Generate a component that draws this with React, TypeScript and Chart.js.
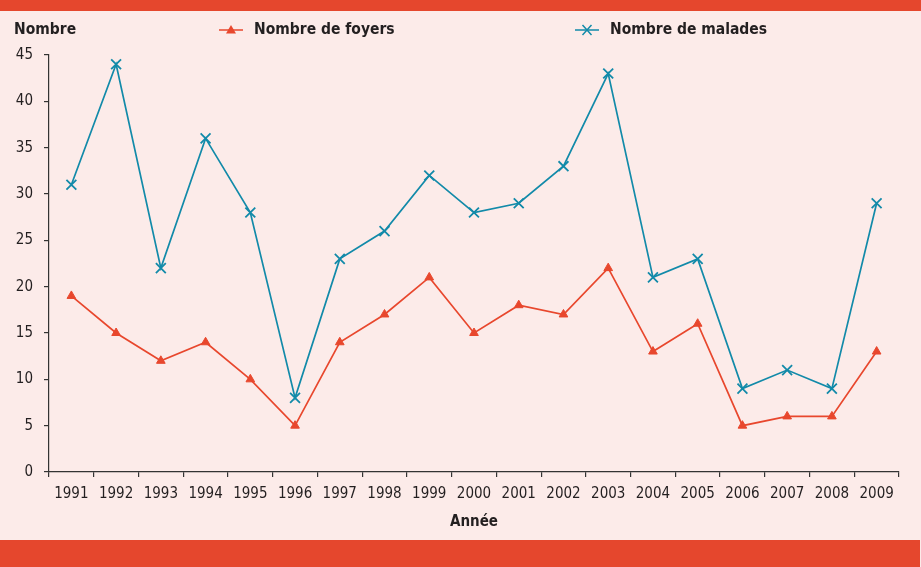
import React, { useEffect, useRef } from "react";
import { Chart, registerables } from "chart.js";

Chart.register(...registerables);

const years = ["1991", "1992", "1993", "1994", "1995", "1996", "1997", "1998", "1999", "2000", "2001", "2002", "2003", "2004", "2005", "2006", "2007", "2008", "2009"];
const foyers = [19, 15, 12, 14, 10, 5, 14, 17, 21, 15, 18, 17, 22, 13, 16, 5, 6, 6, 13];
const malades = [31, 44, 22, 36, 28, 8, 23, 26, 32, 28, 29, 33, 43, 21, 23, 9, 11, 9, 29];
const seriesLabels = ["Nombre de foyers", "Nombre de malades"];
const yAxisLabel = "Nombre";
const xAxisLabel = "Année";
const yMax = 45;
const yStep = 5;

const RED = "#e8472d";
const TEAL = "#128aa9";
const BAND = "#e5472d";
const BG = "#fcebe9";
const TEXT = "#231f20";
const FONT = "'DejaVu Sans Condensed', 'DejaVu Sans', sans-serif";

const legendX = [219, 575];

const headerPlugin = {
  id: "header",
  afterDraw(chart: any) {
    const ctx = chart.ctx as CanvasRenderingContext2D;
    ctx.save();
    ctx.fillStyle = TEXT;
    ctx.textBaseline = "middle";
    ctx.textAlign = "left";
    ctx.font = `bold 15.5px ${FONT}`;
    ctx.fillText(yAxisLabel, 14, 30);
    chart.data.datasets.forEach((ds: any, i: number) => {
      const x0 = legendX[i];
      const y = 30;
      ctx.strokeStyle = ds.borderColor;
      ctx.lineWidth = 1.5;
      ctx.beginPath();
      ctx.moveTo(x0, y);
      ctx.lineTo(x0 + 24, y);
      ctx.stroke();
      const cx = x0 + 12;
      if (ds.pointStyle === "triangle") {
        ctx.fillStyle = ds.borderColor;
        ctx.beginPath();
        ctx.moveTo(cx, y - 5);
        ctx.lineTo(cx + 5, y + 3.5);
        ctx.lineTo(cx - 5, y + 3.5);
        ctx.closePath();
        ctx.fill();
      } else {
        ctx.lineWidth = 1.5;
        ctx.beginPath();
        ctx.moveTo(cx - 4.5, y - 5);
        ctx.lineTo(cx + 4.5, y + 5);
        ctx.moveTo(cx + 4.5, y - 5);
        ctx.lineTo(cx - 4.5, y + 5);
        ctx.stroke();
      }
      ctx.fillStyle = TEXT;
      ctx.font = `bold 15.5px ${FONT}`;
      ctx.fillText(ds.label, x0 + 35, y);
    });
    ctx.restore();
  },
};

export default function App() {
  const ref = useRef<HTMLCanvasElement | null>(null);

  useEffect(() => {
    if (!ref.current) return;
    const chart = new Chart(ref.current, {
      type: "line",
      data: {
        labels: years,
        datasets: [
          {
            label: seriesLabels[0],
            data: foyers,
            borderColor: RED,
            backgroundColor: RED,
            borderWidth: 1.7,
            pointStyle: "triangle",
            pointRadius: 5,
            pointBorderWidth: 1,
            tension: 0,
          },
          {
            label: seriesLabels[1],
            data: malades,
            borderColor: TEAL,
            backgroundColor: TEAL,
            borderWidth: 1.7,
            pointStyle: "crossRot",
            pointRadius: 7,
            pointBorderWidth: 1.8,
            tension: 0,
          },
        ],
      },
      options: {
        responsive: false,
        animation: false,
        devicePixelRatio: 1,
        layout: { padding: { left: 0, top: 55, right: 22, bottom: 35 } },
        plugins: {
          legend: { display: false },
          tooltip: { enabled: false },
        },
        scales: {
          x: {
            offset: true,
            grid: { drawOnChartArea: false, drawTicks: true, tickLength: 5, color: "#333", offset: true, lineWidth: 1.2 },
            border: { color: "#333", width: 1.2 },
            ticks: { color: TEXT, font: { family: FONT, size: 15 }, maxRotation: 0, autoSkip: false, padding: 8 },
            title: { display: true, text: xAxisLabel, color: TEXT, font: { family: FONT, size: 15, weight: "bold" }, padding: { top: 0, bottom: 1 } },
            afterFit: (scale: any) => {
              scale.height = 60;
            },
          },
          y: {
            min: 0,
            max: yMax,
            grid: { drawOnChartArea: false, drawTicks: true, tickLength: 5, color: "#333", lineWidth: 1.2 },
            border: { color: "#333", width: 1.2 },
            ticks: { stepSize: yStep, color: TEXT, font: { family: FONT, size: 15 }, padding: 11 },
            afterFit: (scale: any) => {
              scale.width = 49;
            },
          },
        },
      },
      plugins: [headerPlugin],
    });
    return () => chart.destroy();
  }, []);

  return (
    <div style={{ position: "fixed", left: 0, top: 0, width: 921, height: 567, background: BG, overflow: "hidden" }}>
      <div style={{ position: "absolute", left: 0, top: 0, width: 921, height: 11, background: BAND }} />
      <div style={{ position: "absolute", left: 0, top: 540, width: 920, height: 27, background: BAND }} />
      <canvas ref={ref} width={921} height={567} style={{ position: "absolute", left: 0, top: 0, width: 921, height: 567 }} />
    </div>
  );
}
